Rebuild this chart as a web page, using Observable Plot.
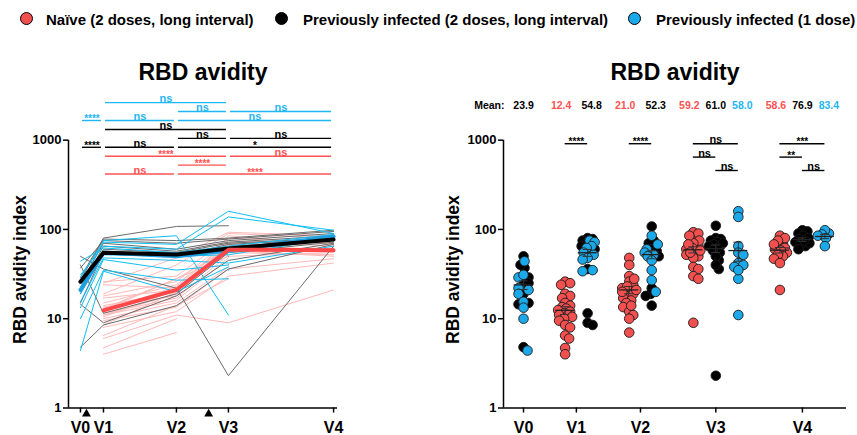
<!DOCTYPE html>
<html><head><meta charset="utf-8">
<script src="https://cdn.jsdelivr.net/npm/d3@7"></script>
<script src="https://cdn.jsdelivr.net/npm/@observablehq/plot@0.6"></script>
<style>
html,body{margin:0;padding:0;background:#fff;}
#chart{position:relative;width:857px;height:435px;overflow:hidden;font-family:"Liberation Sans",Arial,Helvetica,sans-serif;font-weight:bold;color:#000;}
.sw{position:absolute;width:11px;height:11px;border:1.2px solid #000;border-radius:50%;}
.lt{position:absolute;font-size:15px;line-height:15px;white-space:nowrap;}
.title{position:absolute;font-size:23px;line-height:23px;white-space:nowrap;transform:translateX(-50%);}
.panel{position:absolute;top:40px;}
</style></head><body>
<div id="chart"></div>
<script>
// ---------------- DATA ----------------
const visits = ["V0", "V1", "V2", "V3", "V4"];
const visitTime = [0, 1, 4.17, 6.43, 11];      // timeline position of each visit
const doseTime = [0.26, 5.57];                  // vaccine doses (arrows)

const groupKeys = ["naive", "prev", "one"];
const groupNames = ["Naïve (2 doses, long interval)", "Previously infected (2 doses, long interval)", "Previously infected (1 dose)"];

// one entry per participant, null = not sampled
const naiveV1 = [26, 25, 24, 19, 18, 17, 15, 14, 13.5, 13, 12.5, 12, 11.5, 11, 11, 10.5, 10, 9.5, 8.5, 8, 6.5, 6, 4.7, 4];
const naiveV2 = [30, 48, 22, 40, 26, 21, 24, 20, 18, 28, null, 23, 17, 19, 16, 21, 15, 13.5, 20, 12, 14, 11, 10, 7];
const naiveV3 = [80, 93, 65, 90, 75, 56, 70, 62, 85, 60, 50, 68, 52, 58, 48, 55, 38, 36, null, 30, 28, 9, null, null];
const naiveV4 = [70, 85, null, 80, 65, null, 75, 60, 68, 62, 55, 58, null, 50, null, 52, null, 47, null, 42, null, 21, null, null];

const prevV0 = [29, 27, 37, 25, 22, 19, 15, 50, 40, 14.5, 4.8, null, null, null, null, null];
const prevV1 = [80, 78, 75, 70, 65, 60, 55, 36, 11.5, 9, 8.5, null, null, null, null, null];
const prevV2 = [108, 75, 70, 60, 57, 55, 50, 22, 19, 18, 14, null, null, null, null, null];
const prevV3 = [110, 80, 78, 75, 72, 70, 68, 2.3, 55, 45, 36, 65, 62, 58, 50, 40];
const prevV4 = [null, 98, 95, 90, 85, 80, 78, 65, 72, 70, 68, 75, 60, null, null, null];

const oneV0 = [22, 29, 31, 44, 21, 19, 15.5, 13.3, 10, 4.4, null];
const oneV1 = [75, 72, 65, 62, 55, 52, 48, 46, 35, 34, null];
const oneV2 = [85, 68, 60, 55, 52, 50, 45, 35, 27, 20, null];
const oneV3 = [11, 160, 138, 65, 55, 52, 42, 40, 28, 38, 35];
const oneV4 = [null, 90, 98, 88, 85, 80, 65, null, null, null, null];

// group means per visit (thick lines, left panel)
const naiveMean = [null, 12.4, 21.0, 59.2, 58.6];
const prevMean = [26, 54.8, 52.3, 61.0, 76.9];
const oneMean = [21, 55, 50, 58.0, 83.4];

// right panel columns and printed means
const colKeys  = ["V0", "V1 naive", "V1 prev", "V2 naive", "V2 prev", "V3 naive", "V3 prev", "V3 one", "V4 naive", "V4 prev", "V4 one"];
const colVisit = [0, 1, 1, 2, 2, 3, 3, 3, 4, 4, 4];
const colGroups = [["prev", "one"], ["naive"], ["prev", "one"], ["naive"], ["prev", "one"], ["naive"], ["prev"], ["one"], ["naive"], ["prev"], ["one"]];
const colMean  = [23.9, 12.4, 54.8, 21.0, 52.3, 59.2, 61.0, 58.0, 58.6, 76.9, 83.4];
const colMeanGroup = ["prev", "naive", "prev", "naive", "prev", "naive", "prev", "one", "naive", "prev", "one"];

// significance annotations
// left: [group, fromVisit, toVisit, level, label]
const leftSig = [
  ["one", 1, 3, 0, "ns"],
  ["one", 2, 3, 1, "ns"], ["one", 3, 4, 1, "ns"],
  ["one", 0, 1, 2, "****"], ["one", 1, 2, 2, "ns"], ["one", 2, 4, 2, "ns"],
  ["prev", 1, 3, 3, "ns"],
  ["prev", 2, 3, 4, "ns"], ["prev", 3, 4, 4, "ns"],
  ["prev", 0, 1, 5, "****"], ["prev", 1, 2, 5, "ns"], ["prev", 2, 4, 5, "*"],
  ["naive", 1, 3, 6, "****"], ["naive", 3, 4, 6, "ns"],
  ["naive", 2, 3, 7, "****"],
  ["naive", 1, 2, 8, "ns"], ["naive", 2, 4, 8, "****"]
];
// right: [fromColumn, toColumn, level, label]
const rightSig = [
  ["V1 naive", "V1 prev", 0, "****"],
  ["V2 naive", "V2 prev", 0, "****"],
  ["V3 naive", "V3 one", 0, "ns"],
  ["V3 naive", "V3 prev", 1, "ns"],
  ["V3 prev", "V3 one", 2, "ns"],
  ["V4 naive", "V4 one", 0, "***"],
  ["V4 naive", "V4 prev", 1, "**"],
  ["V4 prev", "V4 one", 2, "ns"]
];

// ---------------- STYLE ----------------
const dotColor = {naive: "#F24F4F", prev: "#000000", one: "#1CA9E9"};
const thinColor = {naive: "#FFB9B9", prev: "#6B6B6B", one: "#0FBFF5"};
const thickColor = {naive: "#FF4747", prev: "#000000", one: "#1E9FE2"};
const textColor = {naive: "#FF5252", prev: "#000000", one: "#1FB6F2"};
const FONT = "Liberation Sans, Arial, Helvetica, sans-serif";
const YDOM = [1, Math.pow(10, 3.5)];
const H = 395, MT = 55, MB = 27.5;

const series = {
  naive: [null, naiveV1, naiveV2, naiveV3, naiveV4],
  prev: [prevV0, prevV1, prevV2, prevV3, prevV4],
  one: [oneV0, oneV1, oneV2, oneV3, oneV4]
};
const means = {naive: naiveMean, prev: prevMean, one: oneMean};

function subjectRows(g) {
  const arrs = series[g];
  const n = d3.max(arrs.filter(Boolean), a => a.length);
  const rows = [];
  for (let i = 0; i < n; i++)
    for (let k = 0; k < visits.length; k++) {
      const a = arrs[k];
      if (a && a[i] != null) rows.push({id: g + i, t: visitTime[k], v: a[i]});
    }
  return rows;
}
function meanRows(g) {
  return means[g].map((v, k) => ({t: visitTime[k], v})).filter(d => d.v != null);
}

// ---------------- LEGEND & TITLES ----------------
const chart = document.getElementById("chart");
const legendPos = [[27, 46], [282, 303], [635, 656]];
groupKeys.forEach((g, i) => {
  const s = document.createElement("div");
  s.className = "sw";
  s.style.left = (legendPos[i][0] - 6.7) + "px";
  s.style.top = (18.3 - 6.7) + "px";
  s.style.background = dotColor[g];
  chart.appendChild(s);
  const t = document.createElement("div");
  t.className = "lt";
  t.style.left = legendPos[i][1] + "px";
  t.style.top = "12px";
  t.textContent = groupNames[i];
  chart.appendChild(t);
});
[[203, "RBD avidity"], [675, "RBD avidity"]].forEach(([cx, txt]) => {
  const t = document.createElement("div");
  t.className = "title";
  t.style.left = cx + "px";
  t.style.top = "60.5px";
  t.textContent = txt;
  chart.appendChild(t);
});

// ---------------- LEFT PANEL ----------------
const LEFT_X = [-0.52, 11.17];
const leftSigRows = leftSig.map(([g, a, b, lev, lab]) => ({
  g, lab, y: Math.pow(10, 3.42 - 0.1 * lev),
  x1: visitTime[a], x2: visitTime[b], xm: (visitTime[a] + visitTime[b]) / 2,
  color: textColor[g], stars: lab.includes("*")
}));

const left = Plot.plot({
  width: 440, height: H, marginLeft: 68, marginRight: 103, marginTop: MT, marginBottom: MB,
  x: {domain: LEFT_X},
  y: {type: "log", domain: YDOM},
  color: {type: "identity"},
  style: {fontFamily: FONT, fontWeight: "bold", color: "#000", background: "transparent", overflow: "visible"},
  marks: [
    Plot.line(subjectRows("naive"), {x: "t", y: "v", z: "id", stroke: thinColor.naive, strokeWidth: 1}),
    Plot.line(subjectRows("prev"), {x: "t", y: "v", z: "id", stroke: thinColor.prev, strokeWidth: 1}),
    Plot.line(subjectRows("one"), {x: "t", y: "v", z: "id", stroke: thinColor.one, strokeWidth: 1}),
    Plot.line(meanRows("one"), {x: "t", y: "v", stroke: thickColor.one, strokeWidth: 4}),
    Plot.line(meanRows("prev"), {x: "t", y: "v", stroke: thickColor.prev, strokeWidth: 4}),
    Plot.line(meanRows("naive"), {x: "t", y: "v", stroke: thickColor.naive, strokeWidth: 4}),
    Plot.ruleY(leftSigRows, {y: "y", x1: "x1", x2: "x2", stroke: "color", strokeWidth: 1.4, insetLeft: 2, insetRight: 2}),
    Plot.text(leftSigRows.filter(d => !d.stars), {x: "xm", y: "y", text: "lab", fill: "color", fontSize: 11, lineAnchor: "bottom", dy: -0.5}),
    Plot.text(leftSigRows.filter(d => d.stars), {x: "xm", y: "y", text: "lab", fill: "color", fontSize: 10, lineAnchor: "bottom", dy: 1.5}),
    Plot.ruleX([LEFT_X[0]], {x: d => d, y1: 1, y2: 1000, strokeWidth: 1.5}),
    Plot.ruleY([1], {strokeWidth: 1.5}),
    Plot.axisY({ticks: [1, 10, 100, 1000], tickFormat: d => String(d), tickSize: 5, tickPadding: 2, fontSize: 13, strokeWidth: 1.5, label: null}),
    Plot.axisX({ticks: visitTime, tickFormat: d => visits[visitTime.indexOf(d)], tickSize: 5, tickPadding: 8.5, fontSize: 16, strokeWidth: 1.5, label: null}),
    Plot.dot(doseTime, {x: d => d, y: () => 1, symbol: "triangle", r: 3.3, fill: "#000", dy: 6}),
    Plot.text(["RBD avidity index"], {x: () => LEFT_X[0], y: () => Math.pow(10, 1.55), text: d => d, rotate: -90, dx: -48, fontSize: 17.5})
  ]
});
left.classList.add("panel");
left.style.left = "0px";
chart.appendChild(left);

// ---------------- RIGHT PANEL ----------------
const RIGHT_X = [-0.89, 14.36];
const RW = 417, RML = 63, RMR = 11;
const blockGap = 0.85;
// column positions from block structure
const colPos = [];
{
  let cursor = 0, prevVisit = 0;
  colKeys.forEach((k, i) => {
    if (i > 0) { cursor += 1; if (colVisit[i] !== prevVisit) cursor += blockGap; }
    colPos.push(cursor); prevVisit = colVisit[i];
  });
}
const posOf = Object.fromEntries(colKeys.map((k, i) => [k, colPos[i]]));
const visitCenter = visits.map((v, k) => d3.mean(colPos.filter((p, i) => colVisit[i] === k)));

const ypx = d3.scaleLog().domain(YDOM).range([H - MB, MT]);
const pxPerUnit = (RW - RML - RMR) / (RIGHT_X[1] - RIGHT_X[0]);

const points = [];
const colStats = [];
colKeys.forEach((k, i) => {
  const pts = [];
  colGroups[i].forEach(g => series[g][colVisit[i]].forEach(v => { if (v != null) pts.push({g, v}); }));
  // deterministic narrow swarm (overlap allowed, as in the original scatter)
  const placed = [];
  pts.slice().sort((a, b) => b.v - a.v).forEach(p => {
    const py = ypx(p.v);
    let best = 0, bestD = -1;
    for (let s = 0; s <= 14; s++) {
      const off = (s % 2 ? 1 : -1) * Math.ceil(s / 2);
      let md = Infinity;
      for (const q of placed) md = Math.min(md, Math.hypot(q.ox - off, q.py - py));
      if (md >= 5) { best = off; bestD = md; break; }
      if (md > bestD) { bestD = md; best = off; }
    }
    placed.push({ox: best, py});
    p.x = colPos[i] + best / pxPerUnit;
  });
  pts.forEach(p => points.push(p));
  const vals = pts.map(p => p.v);
  const sem = d3.deviation(vals) / Math.sqrt(vals.length);
  const center = visitCenter[colVisit[i]];
  colStats.push({x: colPos[i], mean: colMean[i], lo: colMean[i] - sem, hi: colMean[i] + sem,
    g: colMeanGroup[i], label: colMean[i].toFixed(1), dx: Math.sign(colPos[i] - center) * 4});
});
const rightSigRows = rightSig.map(([a, b, lev, lab]) => ({
  x1: posOf[a], x2: posOf[b], xm: (posOf[a] + posOf[b]) / 2, y: Math.pow(10, 2.96 - 0.15 * lev), lab, stars: lab.includes("*")
}));

const meanTextMarks = colStats.map(d => Plot.text([d], {x: "x", y: () => Math.pow(10, 3.39), text: "label", fill: textColor[d.g], fontSize: 10.5, dx: d.dx}));

const right = Plot.plot({
  width: RW, height: H, marginLeft: RML, marginRight: RMR, marginTop: MT, marginBottom: MB,
  x: {domain: RIGHT_X},
  y: {type: "log", domain: YDOM},
  color: {type: "identity"},
  style: {fontFamily: FONT, fontWeight: "bold", color: "#000", background: "transparent", overflow: "visible"},
  marks: [
    ...groupKeys.map(g => Plot.dot(points.filter(p => p.g === g), {x: "x", y: "v", r: 4.8, fill: dotColor[g], stroke: "#1a1a1a", strokeWidth: 0.9})),
    Plot.ruleX(colStats, {x: "x", y1: "lo", y2: "hi", stroke: "#333", strokeWidth: 1}),
    Plot.ruleY(colStats, {y: "lo", x1: d => d.x - 0.2, x2: d => d.x + 0.2, stroke: "#333", strokeWidth: 1}),
    Plot.ruleY(colStats, {y: "hi", x1: d => d.x - 0.2, x2: d => d.x + 0.2, stroke: "#333", strokeWidth: 1}),
    Plot.ruleY(colStats, {y: "mean", x1: d => d.x - 0.42, x2: d => d.x + 0.42, stroke: "#222", strokeWidth: 1.3}),
    ...meanTextMarks,
    Plot.text(["Mean:"], {x: () => colPos[0], y: () => Math.pow(10, 3.39), text: d => d, textAnchor: "end", dx: -19, fontSize: 10.5}),
    Plot.ruleY(rightSigRows, {y: "y", x1: "x1", x2: "x2", stroke: "#000", strokeWidth: 1.4}),
    Plot.text(rightSigRows.filter(d => !d.stars), {x: "xm", y: "y", text: "lab", fontSize: 11, lineAnchor: "bottom", dy: -0.5}),
    Plot.text(rightSigRows.filter(d => d.stars), {x: "xm", y: "y", text: "lab", fontSize: 10, lineAnchor: "bottom", dy: 1.5}),
    Plot.ruleX([RIGHT_X[0]], {x: d => d, y1: 1, y2: 1000, strokeWidth: 1.5}),
    Plot.ruleY([1], {strokeWidth: 1.5}),
    Plot.axisY({ticks: [1, 10, 100, 1000], tickFormat: d => String(d), tickSize: 5, tickPadding: 2, fontSize: 13, strokeWidth: 1.5, label: null}),
    Plot.axisX({ticks: visitCenter, tickFormat: d => visits[visitCenter.indexOf(d)], tickSize: 5, tickPadding: 8.5, fontSize: 16, strokeWidth: 1.5, label: null}),
    Plot.text(["RBD avidity index"], {x: () => RIGHT_X[0], y: () => Math.pow(10, 1.55), text: d => d, rotate: -90, dx: -50, fontSize: 17.5})
  ]
});
right.classList.add("panel");
right.style.left = "440px";
chart.appendChild(right);
</script>
</body></html>
